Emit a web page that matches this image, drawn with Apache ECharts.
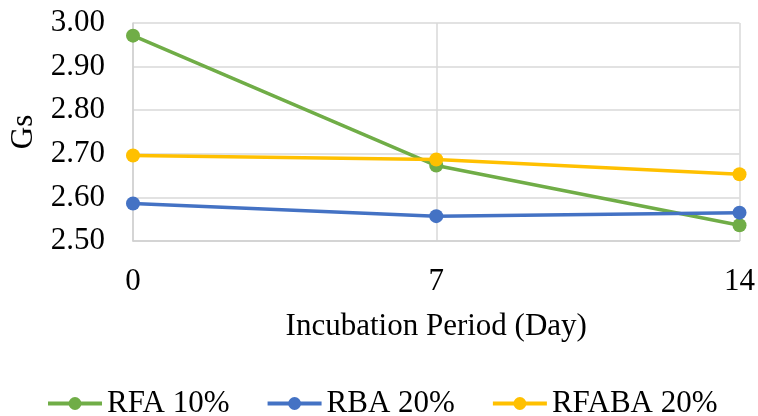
<!DOCTYPE html>
<html>
<head>
<meta charset="utf-8">
<script src="https://cdn.jsdelivr.net/npm/echarts@6/dist/echarts.min.js"></script>
<style>html,body{margin:0;padding:0;background:#fff}#c{width:758px;height:416px}</style>
</head>
<body>
<div id="c"></div>
<script>
const categories = ['0', '7', '14'];
const rfa10 = [2.971, 2.673, 2.536];
const rba20 = [2.586, 2.557, 2.565];
const rfaba20 = [2.696, 2.687, 2.653];
const seriesNames = ['RFA 10%', 'RBA 20%', 'RFABA 20%'];
const colors = ['#70ad47', '#4472c4', '#ffc000'];

const font = 'Liberation Serif, Times New Roman, serif';
const chart = echarts.init(document.getElementById('c'));
function mk(name, data, color) {
  return {
    name: name, type: 'line', data: data,
    symbol: 'circle', symbolSize: 14,
    lineStyle: { width: 3.5, color: color },
    itemStyle: { color: color },
    emphasis: { disabled: true }
  };
}
chart.setOption({
  animation: false,
  grid: { left: 133, right: 17, top: 23, bottom: 175 },
  xAxis: {
    type: 'category', data: categories, boundaryGap: false,
    name: 'Incubation Period (Day)', nameLocation: 'middle', nameGap: 70,
    nameTextStyle: { fontFamily: font, fontSize: 31, color: '#000' },
    axisLine: { show: true, lineStyle: { color: '#d0d0d0', width: 1.5 } },
    axisTick: { show: false },
    axisLabel: { fontFamily: font, fontSize: 31, color: '#000', margin: 25 },
    splitLine: { show: true, lineStyle: { color: '#d9d9d9', width: 1.5 } }
  },
  yAxis: {
    type: 'value', min: 2.5, max: 3.0, interval: 0.1,
    name: 'Gs', nameLocation: 'middle', nameGap: 94, nameRotate: 90,
    nameTextStyle: { fontFamily: font, fontSize: 31, color: '#000' },
    axisLine: { show: true, lineStyle: { color: '#d0d0d0', width: 1.5 } },
    axisTick: { show: false },
    axisLabel: { fontFamily: font, fontSize: 31, color: '#000', margin: 28,
      formatter: v => v.toFixed(2) },
    splitLine: { show: true, lineStyle: { color: '#d9d9d9', width: 1.5 } }
  },
  legend: {
    data: seriesNames, left: 41, top: 383, itemWidth: 54, itemHeight: 16, itemGap: 36,
    lineStyle: { width: 4 },
    textStyle: { fontFamily: font, fontSize: 31, color: '#000' }
  },
  series: [
    mk(seriesNames[0], rfa10, colors[0]),
    mk(seriesNames[1], rba20, colors[1]),
    mk(seriesNames[2], rfaba20, colors[2])
  ]
});
</script>
</body>
</html>
